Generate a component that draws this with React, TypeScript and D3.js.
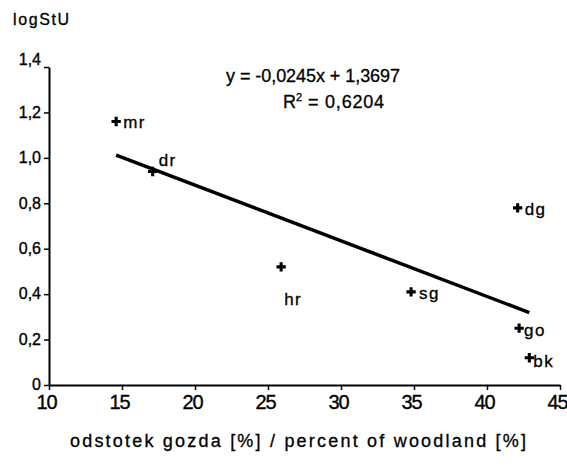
import { useRef, useEffect } from 'react';
import * as d3 from 'd3';

// Sites: percent of woodland vs logStU
const sites = ['mr', 'dr', 'hr', 'sg', 'dg', 'go', 'bk'];
const woodland = [14.6, 17.1, 25.9, 34.8, 42.1, 42.2, 42.9];
const logStU = [1.16, 0.94, 0.52, 0.41, 0.78, 0.25, 0.12];

const xTicks = [10, 15, 20, 25, 30, 35, 40, 45];
const yTicks = [0, 0.2, 0.4, 0.6, 0.8, 1.0, 1.2, 1.4];

// Fitted trend line from the chart
const slope = -0.0245;
const intercept = 1.3697;
const r2 = 0.6204;

const W = 567;
const H = 466;
const FONT = '"Liberation Sans", Arial, sans-serif';

const fmt = (v: number, d: number) => v.toFixed(d).replace('.', ',');

export default function App() {
  const svgRef = useRef<SVGSVGElement>(null);

  useEffect(() => {
    if (!svgRef.current) return;
    const svg = d3.select(svgRef.current);
    svg.selectAll('*').remove();

    const margin = { top: 67, right: 7, bottom: 81, left: 49 };
    const w = W - margin.left - margin.right;
    const h = H - margin.top - margin.bottom;

    const x = d3.scaleLinear().domain([10, 45]).range([0, w]);
    const y = d3.scaleLinear().domain([0, 1.4]).range([h, 0]);

    const g = svg.append('g').attr('transform', `translate(${margin.left},${margin.top})`);

    // Axes
    const xAxis = g.append('g')
      .attr('transform', `translate(0,${h})`)
      .call(d3.axisBottom(x).tickValues(xTicks).tickSize(5).tickSizeOuter(0).tickFormat((d) => String(d)));
    const yAxis = g.append('g')
      .call(d3.axisLeft(y).tickValues(yTicks).tickSize(5).tickSizeOuter(0)
        .tickFormat((d) => (+d === 0 ? '0' : fmt(+d, 1))));

    for (const ax of [xAxis, yAxis]) {
      ax.select('.domain').attr('stroke', '#000').attr('stroke-width', 2);
      ax.selectAll('.tick line').attr('stroke', '#000').attr('stroke-width', 1.5);
      ax.selectAll('text')
        .attr('font-family', FONT)
        .attr('fill', '#000')
        .attr('stroke', '#000')
        .attr('stroke-width', 0.35);
    }
    xAxis.selectAll('text')
      .attr('font-size', 20)
      .attr('letter-spacing', -1)
      .attr('x', -3)
      .attr('y', 8)
      .attr('dy', '0.78em');
    yAxis.selectAll('text')
      .attr('font-size', 16)
      .attr('x', -8)
      .attr('dy', (d) => (+(d as number) === 1.4 ? '-0.15em' : '0.3em'));

    // Trend line across data range
    const [x0, x1] = d3.extent(woodland) as [number, number];
    const line = d3.line<number>()
      .x((d) => x(d))
      .y((d) => y(slope * d + intercept));
    g.append('path')
      .datum([x0, x1])
      .attr('d', line)
      .attr('fill', 'none')
      .attr('stroke', '#000')
      .attr('stroke-width', 3.5);

    // Points
    const cross = d3.symbol().type(d3.symbolCross).size(48);
    const labelOffset: Record<string, [number, number]> = {
      mr: [7, 6],
      dr: [6, -5],
      hr: [3, 38],
      sg: [8, 7],
      dg: [7, 7],
      go: [5, 8],
      bk: [4, 9],
    };
    sites.forEach((s, i) => {
      const px = x(woodland[i]);
      const py = y(logStU[i]);
      g.append('path')
        .attr('d', cross)
        .attr('transform', `translate(${px},${py})`)
        .attr('fill', '#000');
      const [dx, dy] = labelOffset[s];
      g.append('text')
        .attr('x', px + dx)
        .attr('y', py + dy)
        .attr('font-family', FONT)
        .attr('font-size', 17)
        .attr('letter-spacing', 1.5)
        .attr('fill', '#000')
        .attr('stroke', '#000')
        .attr('stroke-width', 0.3)
        .text(s);
    });

    const txt = (sel: d3.Selection<SVGTextElement, unknown, null, undefined>) =>
      sel.attr('font-family', FONT).attr('fill', '#000').attr('stroke', '#000').attr('stroke-width', 0.3);

    // Equation
    svg.append('text')
      .attr('x', 226)
      .attr('y', 82)
      .attr('font-size', 18)
      .attr('textLength', 174)
      .attr('lengthAdjust', 'spacing')
      .call(txt)
      .text(`y = ${fmt(slope, 4)}x + ${fmt(intercept, 4)}`);
    const r = svg.append('text')
      .attr('x', 283)
      .attr('y', 108)
      .attr('font-size', 18)
      .call(txt);
    r.append('tspan').text('R');
    r.append('tspan').attr('dy', -7).attr('font-size', 11).text('2');
    r.append('tspan').attr('dy', 7).attr('letter-spacing', 0.8).text(` = ${fmt(r2, 4)}`);

    // Axis titles
    svg.append('text')
      .attr('x', 13)
      .attr('y', 25)
      .attr('font-size', 16)
      .attr('textLength', 56)
      .attr('lengthAdjust', 'spacing')
      .call(txt)
      .text('logStU');
    svg.append('text')
      .attr('x', 70)
      .attr('y', 447)
      .attr('font-size', 18)
      .attr('textLength', 456)
      .attr('lengthAdjust', 'spacing')
      .call(txt)
      .text('odstotek gozda [%] / percent of woodland [%]');
  }, []);

  return (
    <svg
      ref={svgRef}
      width={W}
      height={H}
      style={{ position: 'absolute', left: 0, top: 0, background: '#fff' }}
    />
  );
}
